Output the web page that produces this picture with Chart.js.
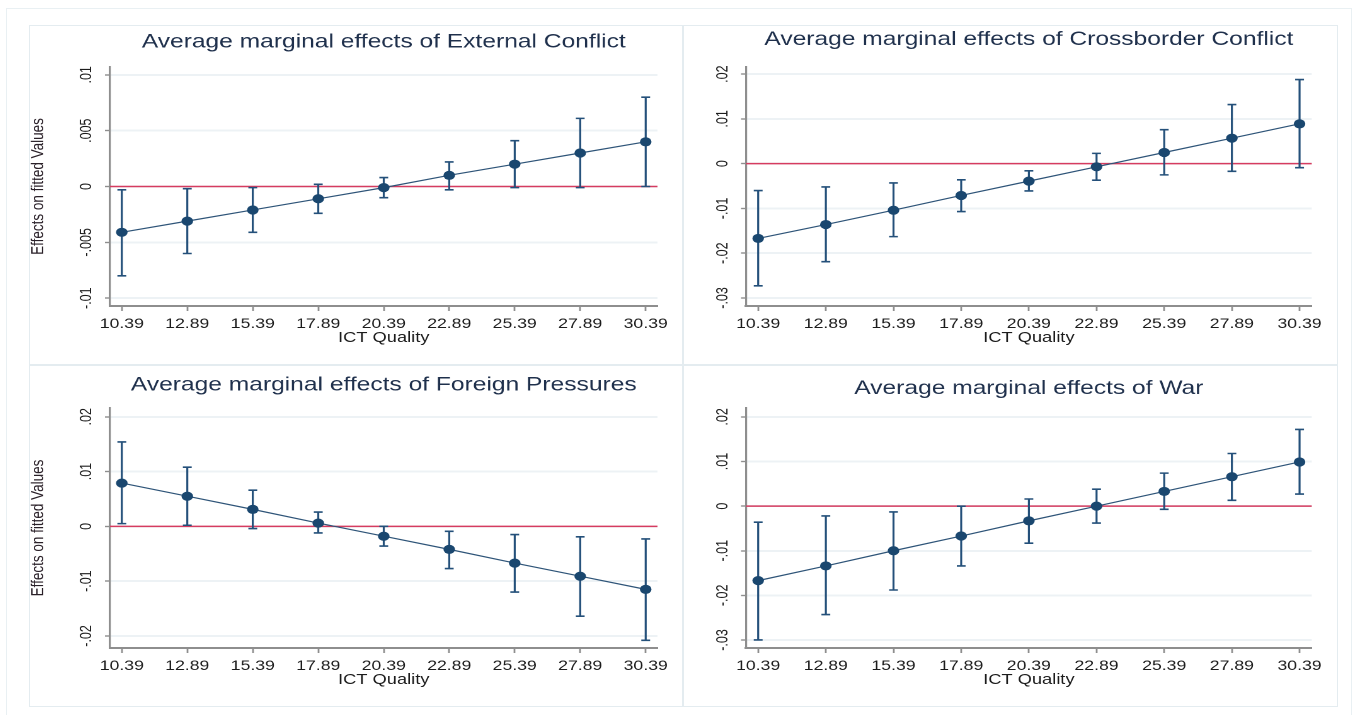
<!DOCTYPE html>
<html>
<head>
<meta charset="utf-8">
<script src="https://cdn.jsdelivr.net/npm/chart.js@4.4.1/dist/chart.umd.min.js"></script>
<style>
  body { margin: 0; background: #fff; width: 1362px; height: 715px; overflow: hidden; position: relative; }
  #frame { position: absolute; left: 6px; top: 8px; width: 1346px; height: 712px; border: 1px solid #e9f0f3; box-sizing: border-box; }
  .panel { position: absolute; border: 1px solid #e4ecf0; box-sizing: border-box; overflow: hidden; }
  .stretch { position: absolute; left: 0; top: 0; transform-origin: 0 0; transform: scaleX(1.26); }
</style>
</head>
<body>
<div id="frame"></div>
<div class="panel" style="left:29px;top:25px;width:654px;height:340px"><div class="stretch"><canvas id="c1"></canvas></div></div>
<div class="panel" style="left:683px;top:25px;width:655px;height:340px"><div class="stretch"><canvas id="c2"></canvas></div></div>
<div class="panel" style="left:29px;top:365px;width:654px;height:342px"><div class="stretch"><canvas id="c3"></canvas></div></div>
<div class="panel" style="left:683px;top:365px;width:655px;height:342px"><div class="stretch"><canvas id="c4"></canvas></div></div>
<script>
// ICT Quality values on the x axis
const ictQuality = [10.39, 12.89, 15.39, 17.89, 20.39, 22.89, 25.39, 27.89, 30.39];

// External Conflict
const extEffect = [-0.0041, -0.0031, -0.0021, -0.0011, -0.0001, 0.0010, 0.0020, 0.0030, 0.0040];
const extLower  = [-0.0080, -0.0060, -0.0041, -0.0024, -0.0010, -0.0003, -0.0001, -0.0001, 0.0000];
const extUpper  = [-0.0003, -0.0002, -0.0001, 0.0002, 0.0008, 0.0022, 0.0041, 0.0061, 0.0080];

// Crossborder Conflict
const crossEffect = [-0.0167, -0.0136, -0.0104, -0.0071, -0.0039, -0.0007, 0.0025, 0.0057, 0.0089];
const crossLower  = [-0.0273, -0.0219, -0.0163, -0.0107, -0.0061, -0.0037, -0.0025, -0.0017, -0.0009];
const crossUpper  = [-0.0060, -0.0052, -0.0043, -0.0036, -0.0016, 0.0023, 0.0076, 0.0132, 0.0188];

// Foreign Pressures
const foreignEffect = [0.0079, 0.0055, 0.0031, 0.0006, -0.0018, -0.0042, -0.0067, -0.0091, -0.0115];
const foreignLower  = [0.0005, 0.0002, -0.0004, -0.0012, -0.0036, -0.0077, -0.0120, -0.0164, -0.0208];
const foreignUpper  = [0.0154, 0.0108, 0.0066, 0.0026, 0.0000, -0.0009, -0.0015, -0.0019, -0.0023];

// War
const warEffect = [-0.0167, -0.0134, -0.0100, -0.0067, -0.0033, 0.0000, 0.0033, 0.0066, 0.0099];
const warLower  = [-0.0300, -0.0243, -0.0188, -0.0134, -0.0083, -0.0038, -0.0007, 0.0013, 0.0027];
const warUpper  = [-0.0036, -0.0022, -0.0013, 0.0000, 0.0016, 0.0038, 0.0074, 0.0118, 0.0172];

// y tick values
const ticksExt = [-0.01, -0.005, 0, 0.005, 0.01];
const ticksCross = [-0.03, -0.02, -0.01, 0, 0.01, 0.02];
const ticksForeign = [-0.02, -0.01, 0, 0.01, 0.02];
const ticksWar = [-0.03, -0.02, -0.01, 0, 0.01, 0.02];

const FONT = '"Liberation Sans", Arial, sans-serif';
const STRETCH = 1.26;
const navy = '#1a476f';
const axisGray = '#8e8e8e';
const gridColor = '#edf2f5';
const zeroColor = '#d63c60';

// Stata style: drop leading zero (.01, -.005)
function stataNum(v) {
    if (v === 0) return '0';
    return String(v).replace('0.', '.');
}

// zero line, error bars and rotated y labels
const stataPlugin = {
    id: 'stataMarks',
    beforeDatasetsDraw(chart) {
        const { ctx, chartArea, scales: { x, y } } = chart;
        const y0 = y.getPixelForValue(0);
        ctx.save();
        ctx.strokeStyle = zeroColor;
        ctx.lineWidth = 1.5;
        ctx.beginPath();
        ctx.moveTo(chartArea.left, y0);
        ctx.lineTo(chartArea.right, y0);
        ctx.stroke();

        const ds = chart.data.datasets[0];
        ctx.strokeStyle = '#24507a';
        ctx.lineWidth = 1.6;
        ds.data.forEach((p, i) => {
            const px = x.getPixelForValue(p.x);
            const top = y.getPixelForValue(ds.upper[i]);
            const bot = y.getPixelForValue(ds.lower[i]);
            ctx.beginPath();
            ctx.moveTo(px, top); ctx.lineTo(px, bot);
            ctx.moveTo(px - 3.5, top); ctx.lineTo(px + 3.5, top);
            ctx.moveTo(px - 3.5, bot); ctx.lineTo(px + 3.5, bot);
            ctx.stroke();
        });
        ctx.restore();
    },
    afterDraw(chart) {
        const { ctx, scales: { y } } = chart;
        ctx.save();
        ctx.font = '12.5px ' + FONT;
        ctx.fillStyle = '#1c1c1c';
        ctx.textAlign = 'center';
        ctx.textBaseline = 'middle';
        y.ticks.forEach(t => {
            ctx.save();
            ctx.translate(y.right - 18.3, y.getPixelForValue(t.value));
            ctx.rotate(-Math.PI / 2);
            ctx.fillText(stataNum(t.value), 0, 0);
            ctx.restore();
        });
        ctx.restore();
    }
};

function makePanel(id, cfg) {
    const canvas = document.getElementById(id);
    canvas.width = Math.round(cfg.w / STRETCH);
    canvas.height = cfg.h;
    const titleTop = cfg.titleMid - 11.7;
    return new Chart(canvas, {
        type: 'line',
        data: {
            datasets: [{
                data: ictQuality.map((q, i) => ({ x: q, y: cfg.effect[i] })),
                lower: cfg.lower,
                upper: cfg.upper,
                borderColor: '#2e5478',
                borderWidth: 1.2,
                pointRadius: 4.6,
                pointBackgroundColor: navy,
                pointBorderWidth: 0,
                tension: 0
            }]
        },
        options: {
            responsive: false,
            animation: false,
            devicePixelRatio: 2,
            layout: { padding: { left: 0, right: cfg.rightPad, top: 0, bottom: 0 } },
            plugins: {
                legend: { display: false },
                tooltip: { enabled: false },
                title: {
                    display: true,
                    text: cfg.title,
                    fullSize: false,
                    color: '#1f304c',
                    font: { family: FONT, size: 19.5, weight: 'normal' },
                    padding: { top: titleTop, bottom: cfg.chartTop - 23.4 - titleTop }
                }
            },
            scales: {
                x: {
                    type: 'linear',
                    min: 9.94,
                    max: 30.84,
                    afterBuildTicks: s => { s.ticks = ictQuality.map(v => ({ value: v })); },
                    afterFit: s => { s.height = 58; },
                    ticks: {
                        autoSkip: false,
                        maxRotation: 0,
                        padding: 4.5,
                        color: '#1c1c1c',
                        font: { family: FONT, size: 14 },
                        callback: v => v.toFixed(2)
                    },
                    grid: { drawOnChartArea: false, drawTicks: true, tickLength: 5, tickColor: axisGray, tickWidth: 1.4 },
                    border: { display: true, color: axisGray, width: 2 },
                    title: {
                        display: true,
                        text: 'ICT Quality',
                        color: '#1c1c1c',
                        font: { family: FONT, size: 14.5 },
                        padding: { top: 0, bottom: 17.3 }
                    }
                },
                y: {
                    min: cfg.yMin,
                    max: cfg.yMax,
                    afterBuildTicks: s => { s.ticks = cfg.ticks.map(v => ({ value: v })); },
                    afterFit: s => { s.width = cfg.yAxisW; },
                    ticks: { display: false },
                    grid: { color: gridColor, lineWidth: 2, drawTicks: true, tickLength: 4, tickColor: axisGray, tickWidth: 1.4 },
                    border: { display: true, color: axisGray, width: 1.6 },
                    title: {
                        display: cfg.yTitle,
                        text: 'Effects on fitted Values',
                        color: '#2a2028',
                        font: { family: FONT, size: 13.5, lineHeight: 1 },
                        padding: { top: 0, bottom: 0 }
                    }
                }
            }
        },
        plugins: [stataPlugin]
    });
}

makePanel('c1', {
    title: 'Average marginal effects of External Conflict',
    effect: extEffect, lower: extLower, upper: extUpper, ticks: ticksExt,
    yMin: -0.0107, yMax: 0.0107,
    w: 652, h: 338, yAxisW: 63.5, rightPad: 19, chartTop: 41, titleMid: 16, yTitle: true
});
makePanel('c2', {
    title: 'Average marginal effects of Crossborder Conflict',
    effect: crossEffect, lower: crossLower, upper: crossUpper, ticks: ticksCross,
    yMin: -0.0318, yMax: 0.0216,
    w: 653, h: 338, yAxisW: 49.2, rightPad: 19.8, chartTop: 41, titleMid: 13.5, yTitle: false
});
makePanel('c3', {
    title: 'Average marginal effects of Foreign Pressures',
    effect: foreignEffect, lower: foreignLower, upper: foreignUpper, ticks: ticksForeign,
    yMin: -0.0222, yMax: 0.0216,
    w: 652, h: 340, yAxisW: 63.5, rightPad: 19, chartTop: 42, titleMid: 19, yTitle: true
});
makePanel('c4', {
    title: 'Average marginal effects of War',
    effect: warEffect, lower: warLower, upper: warUpper, ticks: ticksWar,
    yMin: -0.0318, yMax: 0.022,
    w: 653, h: 340, yAxisW: 49.2, rightPad: 19.8, chartTop: 42, titleMid: 22.5, yTitle: false
});
</script>
</body>
</html>
